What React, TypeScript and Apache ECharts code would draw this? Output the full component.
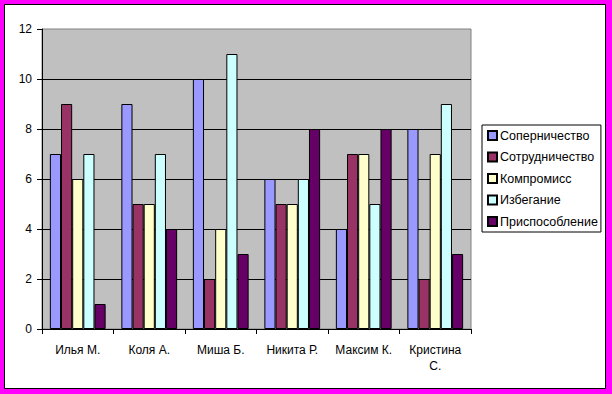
import React, { useEffect, useRef } from "react";
import * as echarts from "echarts";

const categories = ["Илья М.", "Коля А.", "Миша Б.", "Никита Р.", "Максим К.", "Кристина С."];
const seriesNames = ["Соперничество", "Сотрудничество", "Компромисс", "Избегание", "Приспособление"];
const rivalry = [7, 9, 10, 6, 4, 8];
const cooperation = [9, 5, 2, 5, 7, 2];
const compromise = [6, 5, 4, 5, 7, 7];
const avoidance = [7, 7, 11, 6, 5, 9];
const accommodation = [1, 4, 3, 8, 8, 3];
const seriesColors = ["#9999FF", "#993366", "#FFFFCC", "#CCFFFF", "#660066"];
const yTicks = { min: 0, max: 12, interval: 2 };

const FONT = "'Liberation Sans', Arial, sans-serif";

export default function App() {
  const ref = useRef<HTMLDivElement>(null);
  useEffect(() => {
    document.body.style.margin = "0";
    const chart = echarts.init(ref.current!, undefined, { renderer: "svg" });
    const values = [rivalry, cooperation, compromise, avoidance, accommodation];
    chart.setOption({
      animation: false,
      backgroundColor: "#FF00FF",
      textStyle: { fontFamily: FONT },
      graphic: [
        {
          type: "rect",
          z: -10,
          silent: true,
          shape: { x: 4.5, y: 4.5, width: 601, height: 384 },
          style: { fill: "#FFFFFF", stroke: "#000000", lineWidth: 1 },
        },
      ],
      grid: {
        show: true,
        left: 42,
        top: 29,
        right: 141,
        bottom: 65,
        backgroundColor: "#C0C0C0",
        borderColor: "#808080",
        borderWidth: 1,
      },
      legend: {
        orient: "vertical",
        left: 482,
        top: 125,
        padding: [4, 3, 4, 5],
        backgroundColor: "#FFFFFF",
        borderColor: "#000000",
        borderWidth: 1,
        itemWidth: 9,
        itemHeight: 9,
        itemGap: 8.5,
        icon: "rect",
        textStyle: { fontFamily: FONT, fontSize: 12.5, color: "#000", padding: [0, 0, 0, -2] },
        data: seriesNames,
      },
      xAxis: {
        type: "category",
        data: categories,
        axisLine: { lineStyle: { color: "#000", width: 1 } },
        axisTick: { show: true, inside: false, length: 5, lineStyle: { color: "#000" } },
        axisLabel: {
          color: "#000",
          fontSize: 12,
          fontFamily: FONT,
          margin: 13,
          lineHeight: 16,
          interval: 0,
          formatter: (v: string) => (v.length > 10 ? v.replace(" ", "\n") : v),
        },
        splitLine: { show: false },
      },
      yAxis: {
        type: "value",
        min: yTicks.min,
        max: yTicks.max,
        interval: yTicks.interval,
        axisLine: { show: true, lineStyle: { color: "#000", width: 1 } },
        axisTick: { show: true, inside: false, length: 5, lineStyle: { color: "#000" } },
        axisLabel: { color: "#000", fontSize: 12, fontFamily: FONT, margin: 10 },
        splitLine: {
          show: true,
          showMinLine: false,
          showMaxLine: false,
          lineStyle: { color: "#000", width: 1 },
        },
      },
      series: seriesNames.map((name, i) => ({
        name,
        type: "bar",
        data: values[i],
        barGap: "0%",
        barCategoryGap: "22%",
        itemStyle: { color: seriesColors[i], borderColor: "#000", borderWidth: 1 },
      })),
    });
    return () => chart.dispose();
  }, []);
  return <div ref={ref} style={{ width: 612, height: 394 }} />;
}
